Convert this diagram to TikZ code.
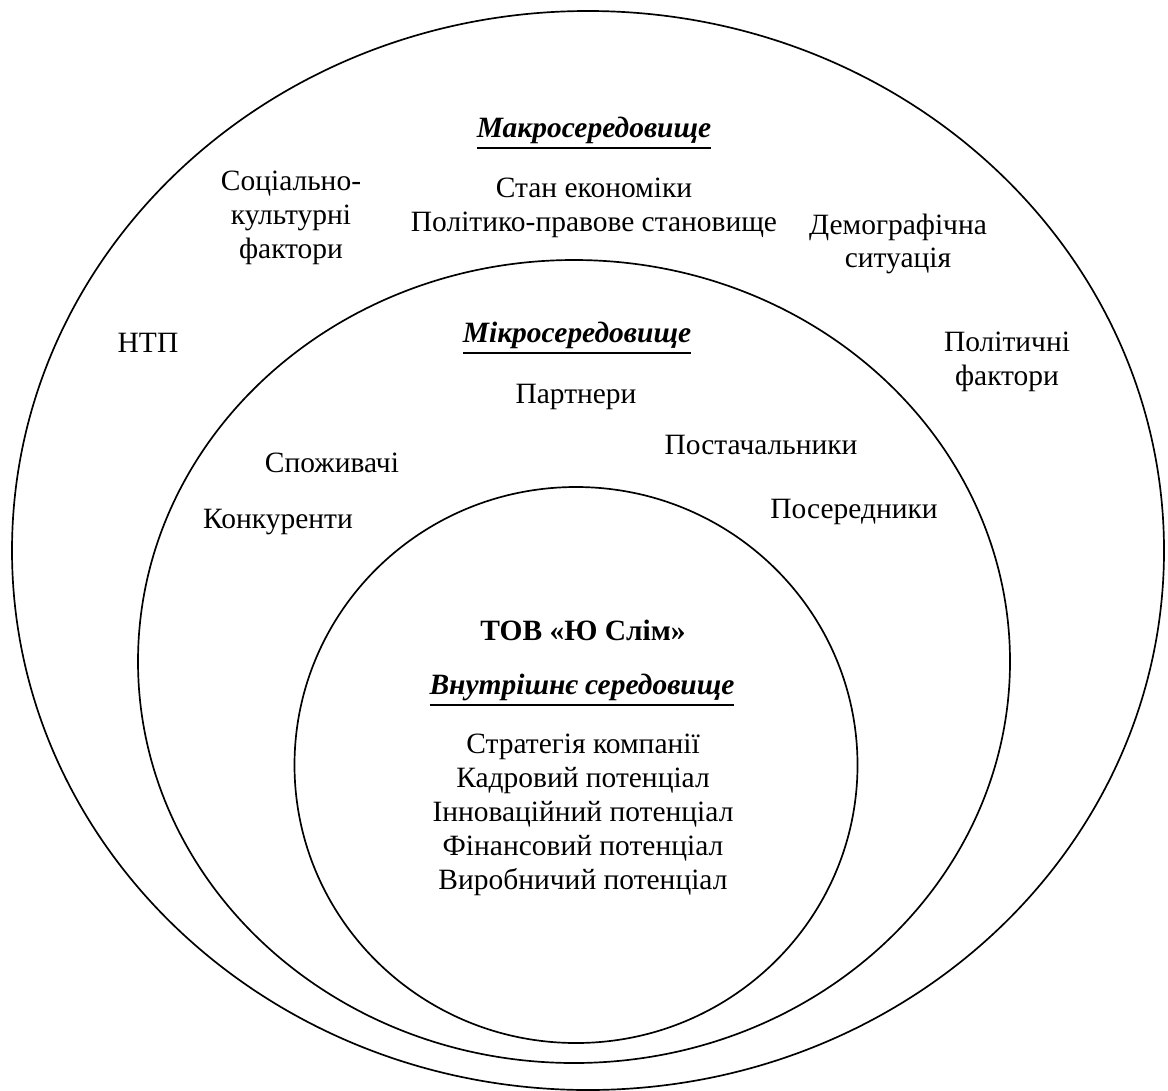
\documentclass[tikz,border=0pt]{standalone}
\usepackage{fontspec}
\setmainfont{Liberation Serif}
\newcommand{\thickul}[1]{\vtop{\hbox{#1}\kern1.2pt\hrule height 1pt}}
\begin{document}
\begin{tikzpicture}[x=0.475pt, y=-0.475pt, font=\fontsize{14}{16.1}\selectfont,
    sphere/.style={line width=0.8pt},
    lbl/.style={align=center, inner sep=0pt},
    ttl/.style={lbl, font=\fontsize{14}{16.1}\selectfont\bfseries\itshape}]
        \useasboundingbox (0,0) rectangle (1168,1090);
        
        % three environments
        \draw[sphere] (588,550.5) ellipse[x radius=576, y radius=539.5];
        \draw[sphere] (574,661.5) ellipse[x radius=436, y radius=401.5];
        \draw[sphere] (576,765) ellipse[x radius=281.5, y radius=278];
        
        % macro
        \node[ttl] (makro) at (594,133) {\thickul{Макросередовище}};
        \node[lbl] (socio) at (291,218) {Соціально-\\культурні\\фактори};
        \node[lbl] (econ) at (594,208) {Стан економіки\\Політико-правове становище};
        \node[lbl] (demo) at (898,244) {Демографічна\\ситуація};
        \node[lbl] (ntp) at (148,343) {НТП};
        \node[lbl] (polit) at (1007,362) {Політичні\\фактори};
        
        % micro
        \node[ttl] (mikro) at (577,338) {\thickul{Мікросередовище}};
        \node[lbl] (partn) at (576,397) {Партнери};
        \node[lbl] (postach) at (761,445) {Постачальники};
        \node[lbl] (spozh) at (332,463) {Споживачі};
        \node[lbl] (posered) at (854,512) {Посередники};
        \node[lbl] (konk) at (278,522) {Конкуренти};
        
        % inner
        \node[lbl, font=\fontsize{14}{16.1}\selectfont\bfseries] (firm) at (583,630) {ТОВ «Ю Слім»};
        \node[ttl] (vnutr) at (582,690) {\thickul{Внутрішнє середовище}};
        \node[lbl] (potent) at (583,815) {Стратегія компанії\\Кадровий потенціал\\Інноваційний потенціал\\Фінансовий потенціал\\Виробничий потенціал};
        
    \end{tikzpicture}
\end{document}
